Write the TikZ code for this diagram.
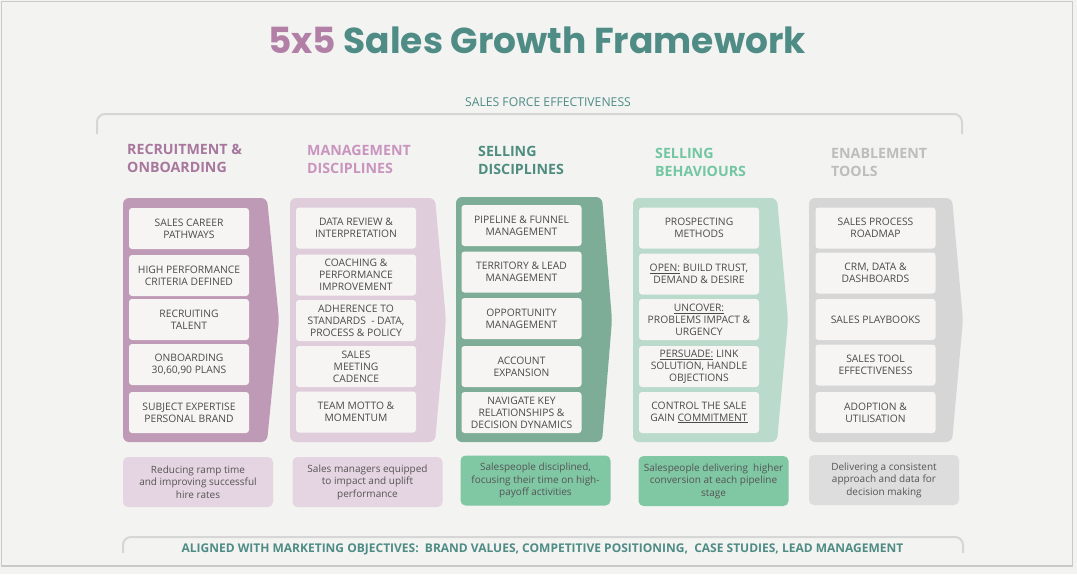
\documentclass[tikz,border=0pt]{standalone}
\usepackage{fontspec}
\setmainfont{Open Sans}
\newfontfamily\titlefont{Poppins}
\definecolor{bg}{HTML}{F3F3F1}
\definecolor{bordercol}{HTML}{C9C9C9}
\definecolor{teal}{HTML}{4F8C86}
\definecolor{mauve}{HTML}{B27FA6}
\definecolor{bracketcol}{HTML}{D6D6D6}
\definecolor{tOne}{HTML}{A8779E}
\definecolor{fOne}{HTML}{BF9AB7}
\definecolor{tTwo}{HTML}{C994BE}
\definecolor{fTwo}{HTML}{E0CDDC}
\definecolor{tThree}{HTML}{4F8C80}
\definecolor{fThree}{HTML}{7EAD97}
\definecolor{tFour}{HTML}{72C6A2}
\definecolor{fFour}{HTML}{BADBCB}
\definecolor{tFive}{HTML}{BDBDBD}
\definecolor{fFive}{HTML}{D6D6D6}
\definecolor{boxfill}{HTML}{F6F5F4}
\definecolor{boxtext}{HTML}{4A4A4A}
\definecolor{outtext}{HTML}{555555}
\definecolor{oMauve}{HTML}{E5D4E1}
\definecolor{oGreen}{HTML}{80C7A4}
\definecolor{oGray}{HTML}{DDDDDD}
\tikzset{
  ibox/.style={fill=boxfill, rounded corners=3, minimum width=120, minimum height=41,
    inner sep=0, align=center, text=boxtext, font=\fontsize{10.3}{12}\selectfont},
  coltitle/.style={anchor=north west, align=left, inner sep=0,
    font=\bfseries\fontsize{14.2}{18}\selectfont},
  outbox/.style={rounded corners=5, minimum width=150, minimum height=50, inner sep=0,
    align=center, text=outtext, font=\fontsize{10}{12.5}\selectfont},
  chevron/.style={rounded corners=6},
  bracket/.style={draw=bracketcol, line width=2, rounded corners=8},
}
\begin{document}
\begin{tikzpicture}[x=1pt,y=-1pt]
\useasboundingbox (0,0) rectangle (1077,574);
\fill[bg] (0,0) rectangle (1077,574);
\draw[bordercol, line width=1.5] (1.5,1.5) rectangle (1072.5,566);

% title
\node[anchor=base, inner sep=0, text=teal, font=\titlefont\bfseries\fontsize{36}{40}\selectfont] (title) at (537,53)
  {{\color{mauve}5x5} Sales Growth Framework};

% top bracket
\node[anchor=base, inner sep=0, text=teal, font=\fontsize{12.2}{14}\selectfont] (sfe) at (548,106) {SALES FORCE EFFECTIVENESS};
\coordinate (tbl) at (97,134);
\coordinate (tbr) at (962,134);
\draw[bracket] (tbl) |- (962,114) -- (tbr);

% chevrons
\path[chevron, fill=fOne]   (123,198) -- (267,198) -- (279,320) -- (267,442) -- (123,442) -- cycle;
\path[chevron, fill=fTwo]   (290,198) -- (435,198) -- (446,320) -- (435,442) -- (290,442) -- cycle;
\path[chevron, fill=fThree] (456,197) -- (602,197) -- (612,320) -- (602,442) -- (456,442) -- cycle;
\path[chevron, fill=fFour]  (633,198) -- (777,198) -- (788,320) -- (777,442) -- (633,442) -- cycle;
\path[chevron, fill=fFive]  (809,198) -- (952,198) -- (963,320) -- (952,442) -- (809,442) -- cycle;

% column titles
\node[coltitle, text=tOne]   (h1) at (127,144) {RECRUITMENT \&\\ONBOARDING};
\node[coltitle, text=tTwo]   (h2) at (307,145) {MANAGEMENT\\DISCIPLINES};
\node[coltitle, text=tThree] (h3) at (478,146) {SELLING\\DISCIPLINES};
\node[coltitle, text=tFour]  (h4) at (655,148) {SELLING\\BEHAVIOURS};
\node[coltitle, text=tFive]  (h5) at (831,148) {ENABLEMENT\\TOOLS};

% column 1
\node[ibox] (c1b1) at (189,228.5) {SALES CAREER\\PATHWAYS};
\node[ibox] (c1b2) at (189,275.5) {HIGH PERFORMANCE\\CRITERIA DEFINED};
\node[ibox] (c1b3) at (189,319.5) {RECRUITING\\TALENT};
\node[ibox] (c1b4) at (189,364.5) {ONBOARDING\\30,60,90 PLANS};
\node[ibox] (c1b5) at (189,412.5) {SUBJECT EXPERTISE\\PERSONAL BRAND};

% column 2
\node[ibox] (c2b1) at (356,228) {DATA REVIEW \&\\INTERPRETATION};
\node[ibox] (c2b2) at (356,275) {COACHING \&\\PERFORMANCE\\IMPROVEMENT};
\node[ibox] (c2b3) at (356,320.5) {ADHERENCE TO\\STANDARDS~~- DATA,\\PROCESS \& POLICY};
\node[ibox] (c2b4) at (356,366.5) {SALES\\MEETING\\CADENCE};
\node[ibox] (c2b5) at (356,412) {TEAM MOTTO \&\\MOMENTUM};

% column 3
\node[ibox] (c3b1) at (521.5,225.5) {PIPELINE \& FUNNEL\\MANAGEMENT};
\node[ibox] (c3b2) at (521.5,272) {TERRITORY \& LEAD\\MANAGEMENT};
\node[ibox] (c3b3) at (521.5,318.5) {OPPORTUNITY\\MANAGEMENT};
\node[ibox] (c3b4) at (521.5,366.5) {ACCOUNT\\EXPANSION};
\node[ibox] (c3b5) at (521.5,412.5) {NAVIGATE KEY\\RELATIONSHIPS \&\\DECISION DYNAMICS};

% column 4
\node[ibox] (c4b1) at (699,228) {PROSPECTING\\METHODS};
\node[ibox] (c4b2) at (699,274) {\underline{OPEN:} BUILD TRUST,\\DEMAND \& DESIRE};
\node[ibox] (c4b3) at (699,319.5) {\underline{UNCOVER:}\\PROBLEMS IMPACT \&\\URGENCY};
\node[ibox] (c4b4) at (699,366.5) {\underline{PERSUADE:} LINK\\SOLUTION, HANDLE\\OBJECTIONS};
\node[ibox] (c4b5) at (699,412.5) {CONTROL THE SALE\\GAIN \underline{COMMITMENT}};

% column 5
\node[ibox] (c5b1) at (875.5,228) {SALES PROCESS\\ROADMAP};
\node[ibox] (c5b2) at (875.5,273) {CRM, DATA \&\\DASHBOARDS};
\node[ibox] (c5b3) at (875.5,319.5) {SALES PLAYBOOKS};
\node[ibox] (c5b4) at (875.5,365) {SALES TOOL\\EFFECTIVENESS};
\node[ibox] (c5b5) at (875.5,412.5) {ADOPTION \&\\UTILISATION};

% outcomes
\node[outbox, fill=oMauve] (o1) at (198,482) {Reducing ramp time\\and improving successful\\hire rates};
\node[outbox, fill=oMauve] (o2) at (367.5,482) {Sales managers equipped\\to impact and uplift\\performance};
\node[outbox, fill=oGreen] (o3) at (535.5,480.5) {Salespeople disciplined,\\focusing their time on high-\\payoff activities};
\node[outbox, fill=oGreen] (o4) at (713.5,481) {Salespeople delivering~~higher\\conversion at each pipeline\\stage};
\node[outbox, fill=oGray]  (o5) at (884,480) {Delivering a consistent\\approach and data for\\decision making};

% bottom bracket
\coordinate (bbl) at (123,553);
\coordinate (bbr) at (963,553);
\draw[bracket] (bbl) |- (963,537) -- (bbr);
\node[anchor=base, inner sep=0, text=teal, font=\bfseries\fontsize{12}{14}\selectfont] (aligned) at (542.5,552)
  {ALIGNED WITH MARKETING OBJECTIVES:~~BRAND VALUES, COMPETITIVE POSITIONING,~~CASE STUDIES, LEAD MANAGEMENT};
\end{tikzpicture}
\end{document}
